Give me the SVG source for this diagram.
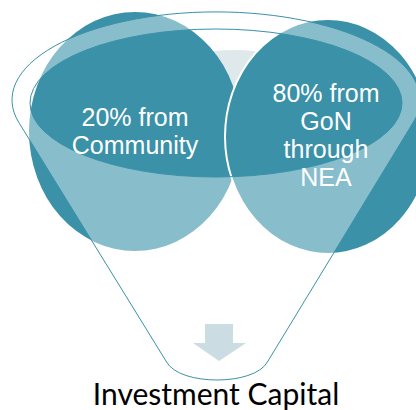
<svg xmlns="http://www.w3.org/2000/svg" width="416" height="410" viewBox="0 0 416 410">
<style>
.dark{fill:#3A91A8;}
.lbl{font-family:"Liberation Sans",Arial,sans-serif;font-size:25px;fill:#FFFFFF;text-anchor:middle;}
.res{font-family:Lato,"Open Sans","Liberation Sans",sans-serif;font-size:30px;fill:#000000;text-anchor:middle;}
.funnel{fill:#FFFFFF;fill-opacity:0.4;fill-rule:evenodd;stroke:#3A91A8;stroke-width:1;}
</style>
<rect width="416" height="410" fill="#FFFFFF"/>
<g id="circle-back">
<ellipse cx="234" cy="112" rx="110" ry="62" fill="#DFE9EC"/>
</g>
<g id="circle-left">
<ellipse class="dark" cx="135" cy="131.5" rx="106" ry="119.5"/>
</g>
<g id="circle-right">
<ellipse class="dark" cx="328" cy="136.5" rx="103" ry="117.5" stroke="#FFFFFF" stroke-width="2"/>
</g>
<g id="funnel">
<path class="funnel" d="M18.9,122.6 A204,88 0 1 1 413.1,122.6 L267.4,362 C254,386 180,386 166.6,362 Z M30,103 A186,74 0 1 0 402,103 A186,74 0 1 0 30,103 Z"/>
</g>
<g id="label-left">
<text class="lbl" x="135" y="126">20% from<tspan x="135" dy="28">Community</tspan></text>
</g>
<g id="label-right">
<text class="lbl" x="326" y="102">80% from<tspan x="326" dy="28">GoN</tspan><tspan x="326" dy="28">through</tspan><tspan x="326" dy="28">NEA</tspan></text>
</g>
<g id="connectors">
<polygon points="205,324 233,324 233,343 246,343 219,361 193,343 205,343" fill="#CBDCE2"/>
</g>
<g id="result">
<text class="res" x="216" y="405">Investment Capital</text>
</g>
</svg>
